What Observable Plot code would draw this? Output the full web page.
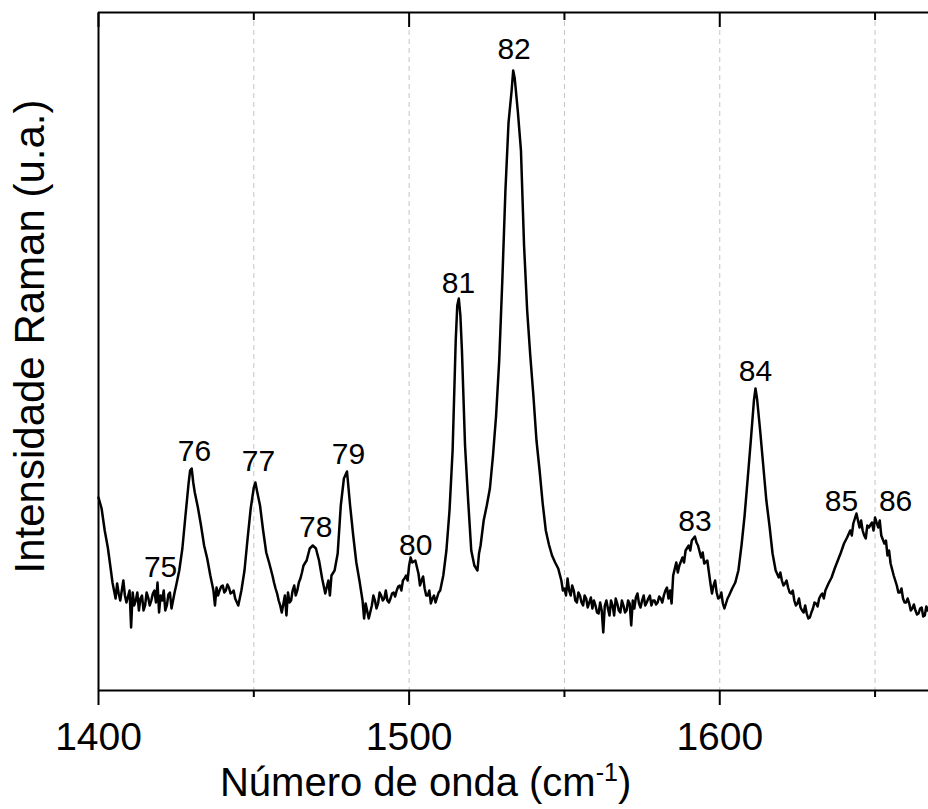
<!DOCTYPE html>
<html><head><meta charset="utf-8">
<script src="https://cdn.jsdelivr.net/npm/d3@7"></script>
<script src="https://cdn.jsdelivr.net/npm/@observablehq/plot@0.6"></script>
<style>body{margin:0;background:#fff;} svg{display:block;}</style>
</head><body><div id="chart"></div>
<script>
// Raman spectrum (wavenumber in cm-1, intensity in arbitrary units)
const wavenumber = [
1400,1401,1402,1403,1404,1405,1406,1407,1408,1409,1410,1410.5,1411,1412,1413,1414,1415,1416,1417,1418,1419,1419.5,1420,
1421,1422,1423,1424,1425,1426,1427,1428,1429,1429.5,1430,1430.5,1431,1432,1433,1434,1435,1436,1437,1437.5,1438,1439,1440,
1441,1442,1443,1444,1445,1446,1447,1448,1449,1450,1450.5,1451,1452,1453,1454,1455,1456,1457,1458,1459,1460,1460.5,
1461,1462,1463,1464,1465,1466,1467,1468,1469,1470,1471,1472,1473,1474,1474.5,1475,1476,1477,1478,1479,1480,
1481,1482,1483,1484,1485,1485.5,1486,1487,1488,1489,1490,1491,1492,1493,1494,1495,1496,1497,1498,1499,1500,1500.5,
1501,1502,1503,1504,1505,1506,1507,1508,1509,1510,1511,1512,1513,1514,1515,1515.5,1516,1516.5,1517,1518,1519,1520,
1521,1522,1522.5,1523,1524,1525,1526,1527,1528,1529,1530,1531,1532,1533,1533.5,1534,1535,1536,1537,1538,1539,1540,
1541,1542,1543,1544,1545,1546,1547,1548,1549,1550,1551,1552,1553,1554,1555,1556,1557,1558,1559,1560,
1561,1562,1562.5,1563,1564,1565,1566,1567,1568,1569,1570,1571,1571.5,1572,1573,1574,1575,1576,1577,1578,1579,1580,
1581,1582,1583,1584,1584.5,1585,1586,1587,1588,1589,1590,1591,1592,1593,1594,1595,1596,1597,1598,1599,1600,
1601,1602,1603,1604,1605,1606,1607,1608,1609,1610,1611,1611.5,1612,1613,1614,1615,1616,1617,1618,1619,1620,
1621,1622,1623,1624,1625,1626,1627,1628,1629,1630,1631,1632,1633,1634,1635,1636,1637,1638,1639,1640,
1641,1642,1643,1644,1645,1646,1647,1648,1649,1650,1651,1652,1653,1654,1655,1656,1657,1658,1659,1660,
1661,1662,1663,1664,1665,1666,1667
];
const intensity = [
193,182,160,143,120,100,107,90,110,88,100,63,98,90,80,95,85,93,90,100,108,78,95,
100,85,98,90,105,120,142,175,207,220,222,208,198,183,165,145,132,115,100,85,103,100,105,
100,103,98,92,85,100,120,152,182,203,208,200,185,160,138,127,115,102,90,78,95,75,
98,90,105,100,112,125,130,142,145,142,130,112,97,110,95,115,120,137,185,212,219,
185,155,128,110,90,72,87,72,85,90,87,95,92,90,92,98,100,105,110,115,125,133,
128,130,117,110,102,95,87,95,93,100,115,140,180,240,350,385,392,375,340,245,190,140,
125,120,137,145,170,185,202,235,275,330,410,500,568,600,620,612,579,540,445,380,335,295,
250,220,187,160,146,135,128,122,110,102,112,95,100,88,95,85,92,88,82,85,
77,80,58,85,82,90,75,87,78,85,80,87,65,90,93,87,90,85,92,85,90,88,
92,95,103,100,87,115,128,125,133,140,145,150,154,145,133,127,130,107,105,98,93,
87,87,95,102,108,120,145,175,212,250,290,302,292,260,225,190,165,137,120,113,110,
107,103,97,90,87,83,78,77,73,82,87,92,97,100,107,113,122,130,138,147,
153,160,167,177,163,160,152,163,168,173,163,155,147,135,127,115,105,98,92,88,
87,82,80,77,83,75,80
];
// extra readings of the fine noise between the samples above
const noiseWavenumber = [
1404.5,1405.5,1406.5,1407.5,1408.5,1411.5,1412.5,1413.5,1414.5,1415.5,1416.5,1417.5,1418.5,1420.5,1421.5,1422.5,1423.5,1424.5,
1438.5,1439.5,1440.5,1441.5,1442.5,1443.5,
1456.5,1457.5,1458.5,1461.5,1462.5,1463.5,1464.5,1465.5,
1488.5,1489.5,1490.5,1491.5,1492.5,1493.5,1494.5,1495.5,1496.5,1497.5,1498.5,1499.5,
1503.5,1504.5,1505.5,1506.5,1507.5,1508.5,1509.5,
1549.5,1550.5,1551.5,1552.5,1553.5,1554.5,1555.5,1556.5,1557.5,1558.5,1559.5,1560.5,1561.5,1563.5,1564.5,1565.5,
1566.5,1567.5,1568.5,1569.5,1570.5,1572.5,1573.5,1574.5,1575.5,1576.5,1577.5,1578.5,1579.5,1580.5,1581.5,1582.5,1583.5,
1586.5,1588.5,1590.5,1592.5,1594.5,
1597.5,1598.5,1599.5,1600.5,1601.5,1602.5,
1619.5,1620.5,1621.5,1622.5,1623.5,1624.5,1625.5,1626.5,1627.5,1628.5,1629.5,1630.5,1631.5,1632.5,1633.5,
1642.5,1643.5,1645.5,1646.5,1647.5,1649.5,1650.5,1651.5,1653.5,1654.5,
1657.5,1658.5,1659.5,1660.5,1661.5,1662.5,1663.5,1664.5,1665.5,1666.5
];
const noiseIntensity = [
108,92,97,100,95,85,98,92,80,98,85,97,88,90,80,96,82,98,
95,104,98,106,97,100,
108,97,85,88,100,95,108,118,
95,82,98,90,100,88,97,94,104,100,112,110,
105,114,95,100,92,88,98,
100,95,100,105,90,98,88,95,83,93,90,78,88,90,75,85,
92,80,90,78,90,82,97,83,95,88,95,90,86,94,88,100,92,
118,128,140,148,138,
97,110,92,98,82,92,
118,105,110,98,100,85,92,80,85,72,78,88,84,95,92,
155,172,170,155,165,160,168,170,150,140,
98,102,88,92,80,86,76,82,74,84
];
const peakNames = ["75","76","77","78","79","80","81","82","83","84","85","86"];
const peakLabelX = [1420.0,1430.9,1451.5,1469.9,1480.5,1502.1,1515.9,1533.8,1592.0,1611.5,1639.2,1656.6];
const peakLabelY = [123,239,229,163,236,145,407,641,169,319,189,189];
const majorTicks = [1400, 1500, 1600];
const minorTicks = [1450, 1550, 1650];
const gridTicks = [1450, 1500, 1550, 1600, 1650];
const xTitleParts = ["Número de onda (cm", "-1", ")"];
const yTitle = "Intensidade Raman (u.a.)";

const spectrum = wavenumber.map((w, i) => ({w, v: intensity[i]}))
  .concat(noiseWavenumber.map((w, i) => ({w, v: noiseIntensity[i]})))
  .sort((a, b) => a.w - b.w);
const labels = peakNames.map((t, i) => ({t, x: peakLabelX[i], y: peakLabelY[i]}));
const xTitle = xTitleParts.join("");
const font = "'Liberation Sans', Arial, sans-serif";

const chart = Plot.plot({
  width: 928,
  height: 809,
  marginLeft: 98,
  marginRight: 0,
  marginTop: 12,
  marginBottom: 119,
  style: {fontFamily: font, background: "white", color: "black", overflow: "visible"},
  x: {domain: [1400, 1667.2], label: null},
  y: {domain: [0, 678], axis: null, label: null},
  marks: [
    Plot.ruleX(gridTicks, {stroke: "#c4c4c4", strokeWidth: 1, strokeDasharray: "5,4"}),
    Plot.line(spectrum, {x: "w", y: "v", stroke: "black", strokeWidth: 2.5, strokeLinejoin: "round"}),
    Plot.ruleY([0], {stroke: "black", strokeWidth: 2}),
    Plot.ruleY([678], {stroke: "black", strokeWidth: 2}),
    Plot.ruleX([1400], {stroke: "black", strokeWidth: 2}),
    Plot.axisX({anchor: "bottom", ticks: majorTicks, tickSize: 15, tickPadding: 17, fontSize: 39,
      tickFormat: d => String(d), strokeWidth: 2, label: null}),
    Plot.axisX({anchor: "bottom", ticks: minorTicks, tickSize: 7, tickFormat: () => "", strokeWidth: 2, label: null}),
    Plot.axisX({anchor: "top", ticks: majorTicks, tickSize: 14, dy: 14, tickFormat: () => "", strokeWidth: 2, label: null}),
    Plot.axisX({anchor: "top", ticks: minorTicks, tickSize: 7, dy: 7, tickFormat: () => "", strokeWidth: 2, label: null}),
    Plot.text(labels, {x: "x", y: "y", text: "t", fontSize: 30, fill: "black"}),
    Plot.text([xTitle], {text: d => d, x: () => 1505.3, frameAnchor: "bottom", lineAnchor: "middle", textAnchor: "middle",
      dy: 93, fontSize: 40, fill: "black"}),
    Plot.text([yTitle], {text: d => d, y: () => 354, frameAnchor: "left", lineAnchor: "middle", textAnchor: "middle",
      dx: -68, rotate: -90, fontSize: 42, fill: "black"})
  ]
});

d3.select(chart).selectAll("text").filter(function() { return this.textContent === xTitle; }).each(function() {
  const t = d3.select(this);
  t.text(null);
  t.append("tspan").text(xTitleParts[0]);
  t.append("tspan").attr("dy", "-15").attr("font-size", "25").text(xTitleParts[1]);
  t.append("tspan").attr("dy", "15").text(xTitleParts[2]);
});

document.getElementById("chart").appendChild(chart);
</script>
</body></html>
